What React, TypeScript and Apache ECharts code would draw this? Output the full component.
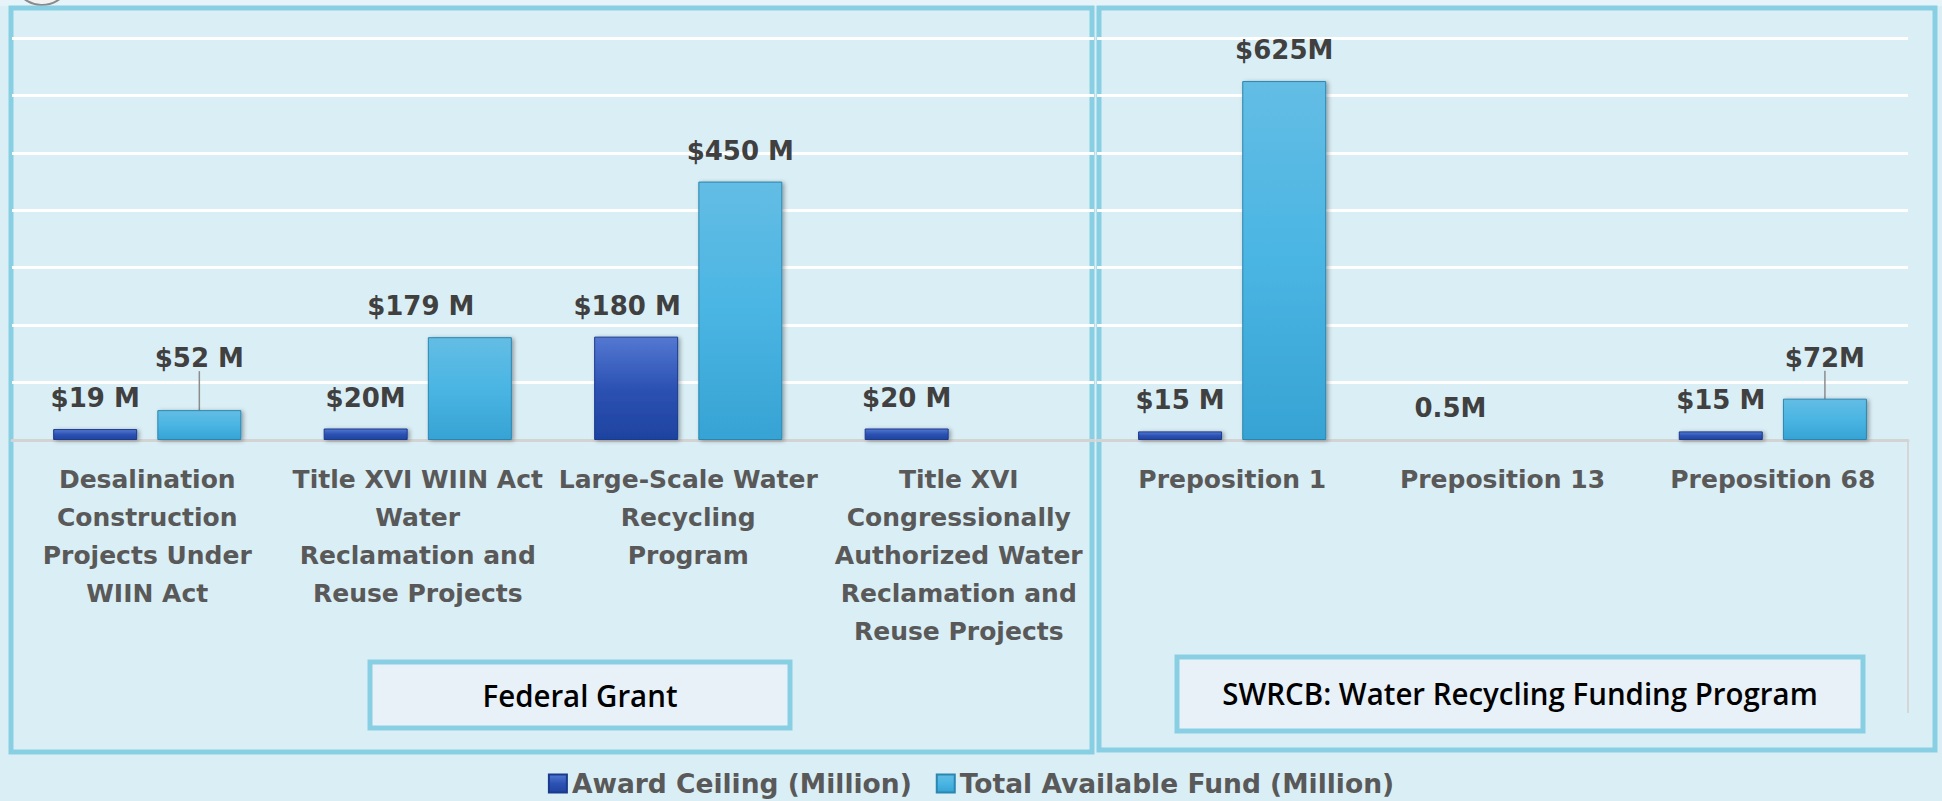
import React, { useEffect, useRef } from "react";
import * as echarts from "echarts";

const leftCategories = [
  "Desalination\nConstruction\nProjects Under\nWIIN Act",
  "Title XVI WIIN Act\nWater\nReclamation and\nReuse Projects",
  "Large-Scale Water\nRecycling\nProgram",
  "Title XVI\nCongressionally\nAuthorized Water\nReclamation and\nReuse Projects",
];
const leftAward = [19, 20, 180, 20];
const leftTotal: (number | null)[] = [52, 179, 450, null];
const leftAwardLabels = ["$19 M", "$20M", "$180 M", "$20 M"];
const leftTotalLabels = ["$52 M", "$179 M", "$450 M", ""];

const rightCategories = ["Preposition 1", "Preposition 13", "Preposition 68"];
const rightAward = [15, 0.5, 15];
const rightTotal: (number | null)[] = [625, null, 72];
const rightAwardLabels = ["$15 M", "0.5M", "$15 M"];
const rightTotalLabels = ["$625M", "", "$72M"];

const seriesNames = ["Award Ceiling (Million)", "Total Available Fund (Million)"];
const groupTitles = ["Federal Grant", "SWRCB: Water Recycling Funding Program"];

const yMin = 0;
const yMax = 700;
const yStep = 100;

// label position tweaks (pixels) keyed by series order then data index
const labelShifts: Record<number, Record<number, { dx?: number; dy?: number }>> = {
  1: { 0: { dy: -21 }, 1: { dx: -49 } },
  0: { 2: { dx: -9 } },
  3: { 2: { dy: -10 } },
};
const leaderLines: Record<number, number[]> = { 1: [0], 3: [2] };

const LABEL_FONT = "'DejaVu Sans', sans-serif";
const TITLE_FONT = "'Open Sans', 'Noto Sans', sans-serif";

const awardColor = new echarts.graphic.LinearGradient(0, 0, 0, 1, [
  { offset: 0, color: "#5378d2" },
  { offset: 0.5, color: "#2c52b3" },
  { offset: 1, color: "#1e43a0" },
]);
const totalColor = new echarts.graphic.LinearGradient(0, 0, 0, 1, [
  { offset: 0, color: "#63bde4" },
  { offset: 0.5, color: "#4ab5e3" },
  { offset: 1, color: "#36a3d4" },
]);

function buildSeries(
  idx: number,
  name: string,
  values: (number | null)[],
  labels: string[],
  axis: number,
  color: any,
  border: string
) {
  const lines = leaderLines[idx] || [];
  return {
    type: "bar",
    name,
    xAxisIndex: axis,
    yAxisIndex: axis,
    barWidth: 84,
    barGap: "24%",
    data: values.map((v, i) => ({
      value: v,
      labelLine: { show: lines.includes(i) },
    })),
    itemStyle: {
      color,
      borderColor: border,
      borderWidth: 1,
      shadowBlur: 4,
      shadowOffsetX: 2,
      shadowOffsetY: 1,
      shadowColor: "rgba(0,0,0,0.35)",
    },
    label: {
      show: true,
      position: "top",
      distance: 18,
      formatter: (p: any) => labels[p.dataIndex] || "",
      fontFamily: LABEL_FONT,
      fontSize: 26,
      fontWeight: "bold",
      color: "#404040",
    },
    labelLine: { show: false, lineStyle: { color: "#8c8c8c", width: 1.5 } },
    labelLayout: (p: any) => {
      const s = (labelShifts[idx] || {})[p.dataIndex];
      return s ? { dx: s.dx || 0, dy: s.dy || 0 } : {};
    },
  };
}

export default function App() {
  const ref = useRef<HTMLDivElement>(null);
  useEffect(() => {
    if (!ref.current) return;
    const chart = echarts.init(ref.current, undefined, { renderer: "svg" });
    const xAxisBase = {
      type: "category",
      axisTick: { show: false },
      axisLine: { lineStyle: { color: "#d3d3d3", width: 3 } },
      axisLabel: {
        interval: 0,
        margin: 20,
        fontFamily: LABEL_FONT,
        fontSize: 25,
        fontWeight: "bold",
        color: "#595959",
        lineHeight: 38,
      },
    };
    const yAxisBase = {
      type: "value",
      min: yMin,
      max: yMax,
      interval: yStep,
      axisLabel: { show: false },
      axisLine: { show: false },
      axisTick: { show: false },
      splitLine: { lineStyle: { color: "#ffffff", width: 3 } },
    };
    chart.setOption({
      animation: false,
      backgroundColor: "#daeef5",
      grid: [
        { left: 12, top: 38, width: 1082, height: 402 },
        { left: 1097, top: 38, width: 811, height: 402 },
      ],
      xAxis: [
        { ...xAxisBase, gridIndex: 0, data: leftCategories },
        { ...xAxisBase, gridIndex: 1, data: rightCategories },
      ],
      yAxis: [
        { ...yAxisBase, gridIndex: 0 },
        { ...yAxisBase, gridIndex: 1 },
      ],
      legend: {
        data: seriesNames,
        left: "center",
        top: 765,
        icon: "rect",
        itemWidth: 18,
        itemHeight: 18,
        itemGap: 24,
        textStyle: {
          fontFamily: LABEL_FONT,
          fontSize: 26.5,
          fontWeight: "bold",
          color: "#595959",
        },
      },
      series: [
        buildSeries(0, seriesNames[0], leftAward, leftAwardLabels, 0, awardColor, "#1a3a8c"),
        buildSeries(1, seriesNames[1], leftTotal, leftTotalLabels, 0, totalColor, "#2b86b0"),
        buildSeries(2, seriesNames[0], rightAward, rightAwardLabels, 1, awardColor, "#1a3a8c"),
        buildSeries(3, seriesNames[1], rightTotal, rightTotalLabels, 1, totalColor, "#2b86b0"),
      ],
      graphic: [
        {
          type: "rect",
          silent: true,
          shape: { x: 0, y: 0, width: 1942, height: 6 },
          style: { fill: "#e6f3f9" },
          z: -1,
        },
        {
          type: "circle",
          silent: true,
          shape: { cx: 42, cy: -24, r: 29 },
          style: { fill: "#f2f2f2", stroke: "#8a8a8a", lineWidth: 2 },
        },
        {
          type: "line",
          silent: true,
          shape: { x1: 1908, y1: 440, x2: 1908, y2: 713 },
          style: { stroke: "#d6d6d6", lineWidth: 2 },
        },
        {
          type: "rect",
          silent: true,
          shape: { x: 11, y: 8, width: 1081, height: 744 },
          style: { fill: "none", stroke: "#88cfe3", lineWidth: 5 },
        },
        {
          type: "rect",
          silent: true,
          shape: { x: 1099, y: 8, width: 836, height: 742 },
          style: { fill: "none", stroke: "#88cfe3", lineWidth: 5 },
        },
        {
          type: "rect",
          silent: true,
          shape: { x: 370, y: 662, width: 420, height: 66 },
          style: { fill: "#e8f1f8", stroke: "#88cfe3", lineWidth: 5 },
        },
        {
          type: "text",
          silent: true,
          x: 580,
          y: 695,
          scaleX: 0.95,
          style: {
            text: groupTitles[0],
            fontFamily: TITLE_FONT,
            fontSize: 31,
            fontWeight: 600,
            fill: "#000000",
            align: "center",
            verticalAlign: "middle",
          },
        },
        {
          type: "rect",
          silent: true,
          shape: { x: 1177, y: 657, width: 686, height: 74 },
          style: { fill: "#e8f1f8", stroke: "#88cfe3", lineWidth: 5 },
        },
        {
          type: "text",
          silent: true,
          x: 1520,
          y: 693,
          scaleX: 0.95,
          style: {
            text: groupTitles[1],
            fontFamily: TITLE_FONT,
            fontSize: 31,
            fontWeight: 600,
            fill: "#000000",
            align: "center",
            verticalAlign: "middle",
          },
        },
      ],
    });
    return () => chart.dispose();
  }, []);
  return (
    <div
      ref={ref}
      style={{ position: "absolute", left: 0, top: 0, width: 1942, height: 801 }}
    />
  );
}
